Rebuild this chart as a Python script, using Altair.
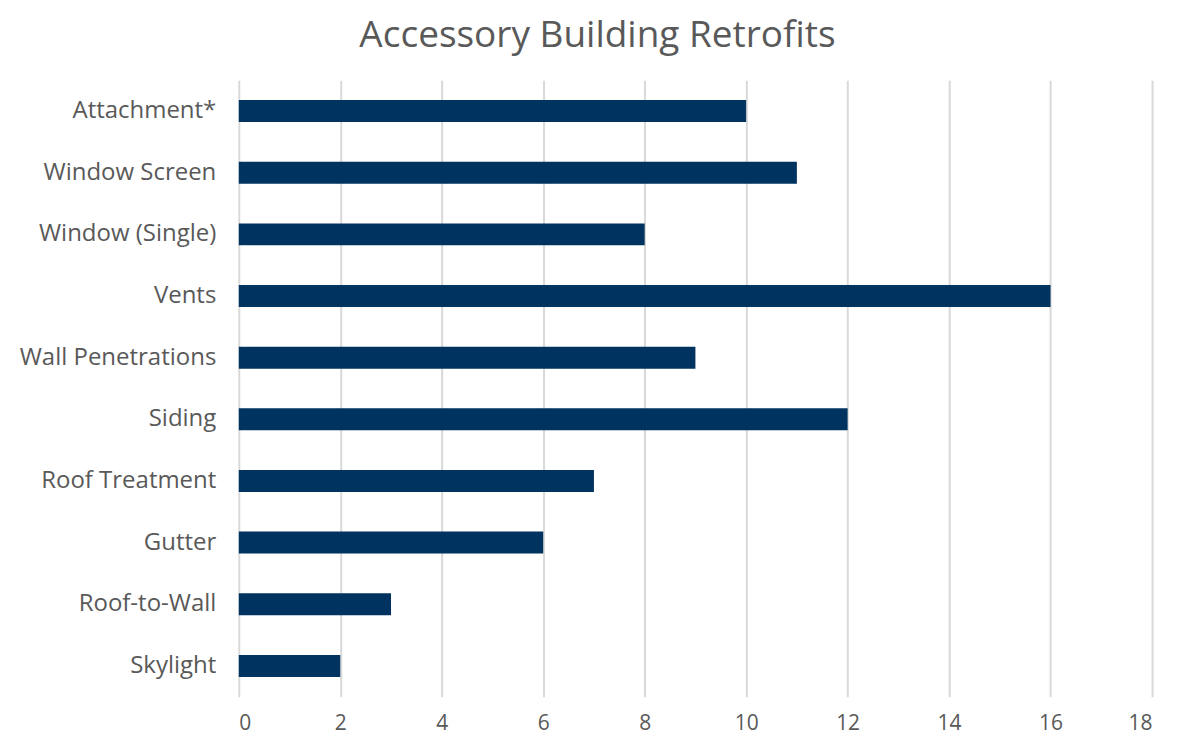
import altair as alt
import pandas as pd

categories = ["Attachment*", "Window Screen", "Window (Single)", "Vents", "Wall Penetrations",
              "Siding ", "Roof Treatment", "Gutter ", "Roof-to-Wall", "Skylight"]
values = [10, 11, 8, 16, 9, 12, 7, 6, 3, 2]
x_ticks = [0, 2, 4, 6, 8, 10, 12, 14, 16, 18]

df = pd.DataFrame({"category": categories, "value": values})

FONT = "Open Sans"
GRAY = "#595959"

chart = alt.Chart(df).mark_bar(color="#00335F", size=22).encode(
    x=alt.X("value:Q", scale=alt.Scale(domain=[0, 18], nice=False),
            axis=alt.Axis(values=x_ticks, title=None, grid=True, gridColor="#D9D9D9",
                          gridWidth=2, domain=False, ticks=False, labelFontSize=21,
                          labelColor=GRAY, labelFont=FONT, labelPadding=16)),
    y=alt.Y("category:N", sort=categories,
            axis=alt.Axis(title=None, domain=False, ticks=False, labelFontSize=24,
                          labelColor=GRAY, labelFont=FONT, labelPadding=23,
                          labelLimit=400)),
).properties(
    width=914, height=617,
    title=alt.Title("Accessory Building Retrofits", fontSize=37, font=FONT,
                    fontWeight="normal", color=GRAY, anchor="middle", dx=-98, offset=25),
    autosize=alt.AutoSizeParams(type="none"),
    padding={"left": 231, "top": 72, "right": 20, "bottom": 40},
).configure(background="white").configure_view(stroke=None, strokeWidth=0)

chart.save("out.html", embed_options={"renderer": "svg", "actions": False})
